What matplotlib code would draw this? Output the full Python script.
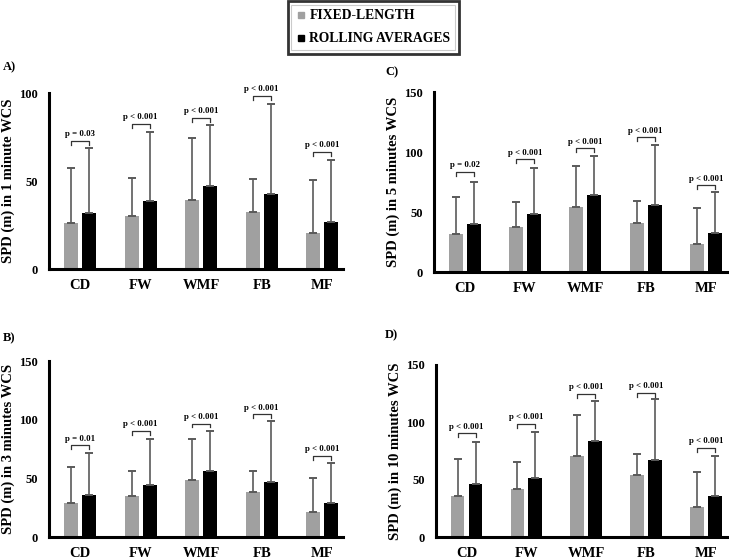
import matplotlib
matplotlib.use("Agg")
import matplotlib.pyplot as plt
from matplotlib.lines import Line2D
from matplotlib.patches import Rectangle
import numpy as np

plt.rcParams['font.family'] = ['Liberation Serif', 'DejaVu Serif']
plt.rcParams['font.weight'] = 'bold'

categories = ['CD', 'FW', 'WMF', 'FB', 'MF']

# panel A: 1 minute WCS
a_fixed = [26, 30.3, 39.2, 32.6, 20.3]
a_fixed_sd = [31.4, 21.4, 35.4, 18.5, 30.1]
a_roll = [32, 38.8, 47.3, 42.6, 26.5]
a_roll_sd = [36.6, 39.2, 34.3, 51.4, 35.2]
a_bracket = [72.9, 82.4, 86, 98.5, 66.5]
a_p = ['p = 0.03', 'p < 0.001', 'p < 0.001', 'p < 0.001', 'p < 0.001']

# panel B: 3 minutes WCS
b_fixed = [28.9, 34.8, 48.4, 38.2, 21.5]
b_fixed_sd = [30.8, 21.8, 35.4, 18.4, 29.2]
b_roll = [36.2, 44.7, 56.3, 47.5, 29.2]
b_roll_sd = [35.7, 39.1, 34.6, 51.3, 34.2]
b_bracket = [78.4, 90.6, 96.8, 104.7, 69.3]
b_p = ['p = 0.01', 'p < 0.001', 'p < 0.001', 'p < 0.001', 'p < 0.001']

# panel C: 5 minutes WCS
c_fixed = [31.7, 37.8, 54.4, 41.1, 23.3]
c_fixed_sd = [30.8, 21.1, 34.5, 18.3, 30]
c_roll = [40, 48.3, 64.2, 55.8, 32.8]
c_roll_sd = [35.3, 38.9, 33, 50, 33.9]
c_bracket = [83.6, 94.2, 103.3, 112.5, 72.5]
c_p = ['p = 0.02', 'p < 0.001', 'p < 0.001', 'p < 0.001', 'p < 0.001']

# panel D: 10 minutes WCS
d_fixed = [36, 41.8, 70.7, 54.2, 26]
d_fixed_sd = [32, 23.5, 35.8, 18.5, 30.8]
d_roll = [46.7, 51.9, 84.2, 67.5, 35.5]
d_roll_sd = [36.4, 39.5, 34.7, 52.8, 35.5]
d_bracket = [90.3, 98.7, 124.7, 125.5, 77.9]
d_p = ['p < 0.001', 'p < 0.001', 'p < 0.001', 'p < 0.001', 'p < 0.001']

GRAY = '#a0a0a0'
ECOL = '#5a5a5a'

fig = plt.figure(figsize=(7.29, 5.6), dpi=100)

def panel(rect, fixed, fsd, roll, rsd, brk, ptxt, ymax, ylabel, tag, tagpos):
    ax = fig.add_axes(rect)
    x = np.arange(len(categories))
    w = 0.23
    off = 0.15
    ax.bar(x - off, fixed, w, color=GRAY)
    ax.bar(x + off, roll, w, color='black')
    ax.errorbar(x - off, fixed, yerr=[np.zeros(5), fsd], fmt='none',
                ecolor=ECOL, elinewidth=1.2, capsize=3, capthick=1.4)
    ax.errorbar(x + off, roll, yerr=[np.zeros(5), rsd], fmt='none',
                ecolor=ECOL, elinewidth=1.2, capsize=3, capthick=1.4)
    tick = ymax * 0.022
    for i in range(len(categories)):
        ax.plot([x[i] - off, x[i] - off, x[i] + off, x[i] + off],
                [brk[i] - tick, brk[i], brk[i], brk[i] - tick],
                color='#333333', lw=0.9)
        ax.text(x[i], brk[i] + ymax * 0.015, ptxt[i], ha='center',
                va='bottom', fontsize=6.3, fontweight='bold')
    ax.set_xlim(-0.51, 4.35)
    ax.set_ylim(0, ymax)
    ax.set_yticks(np.arange(0, ymax + 1, 50))
    ax.set_xticks(x)
    ax.set_xticklabels(categories, fontsize=10.5, fontweight='bold')
    ax.tick_params(axis='y', labelsize=9, length=0, pad=8)
    ax.tick_params(axis='x', length=0, pad=7)
    for s in ['top', 'right']:
        ax.spines[s].set_visible(False)
    for s in ['left', 'bottom']:
        ax.spines[s].set_linewidth(2.2)
    ax.set_ylabel(ylabel, fontsize=10.5, fontweight='bold', labelpad=3)
    fig.text(tagpos[0], tagpos[1], tag, fontsize=9, fontweight='bold',
             ha='left', va='center')
    return ax

panel([0.0676, 0.5196, 0.4033, 0.3143], a_fixed, a_fixed_sd, a_roll, a_roll_sd,
      a_bracket, a_p, 100, 'SPD (m) in 1 minute WCS', 'A)', (0.004, 1 - 67 / 560))
panel([0.0676, 0.0405, 0.4033, 0.3147], b_fixed, b_fixed_sd, b_roll, b_roll_sd,
      b_bracket, b_p, 150, 'SPD (m) in 3 minutes WCS', 'B)', (0.004, 1 - 338 / 560))
panel([0.5953, 0.5138, 0.4020, 0.3214], c_fixed, c_fixed_sd, c_roll, c_roll_sd,
      c_bracket, c_p, 150, 'SPD (m) in 5 minutes WCS', 'C)', (0.528, 1 - 72 / 560))
panel([0.5981, 0.0405, 0.3990, 0.3080], d_fixed, d_fixed_sd, d_roll, d_roll_sd,
      d_bracket, d_p, 150, 'SPD (m) in 10 minutes WCS', 'D)', (0.528, 1 - 335 / 560))

handles = [Line2D([], [], marker='s', color=GRAY, ls='none', markersize=5),
           Line2D([], [], marker='s', color='black', ls='none', markersize=5)]
leg = fig.legend(handles, ['FIXED-LENGTH', 'ROLLING AVERAGES'],
                 loc='upper center', bbox_to_anchor=(0.512, 0.998),
                 prop={'size': 9.8, 'weight': 'bold'}, fancybox=False,
                 edgecolor='black', handletextpad=0.2, handlelength=0.8,
                 borderpad=0.6, labelspacing=0.75, borderaxespad=0)
leg.get_frame().set_linewidth(2)

# second thin line inside the legend frame
fig.canvas.draw()
bb = leg.get_window_extent().transformed(fig.transFigure.inverted())
ix, iy = 3.5 / 729, 3.5 / 560
fig.add_artist(Rectangle((bb.x0 + ix, bb.y0 + iy), bb.width - 2 * ix,
                         bb.height - 2 * iy, transform=fig.transFigure,
                         fill=False, edgecolor='black', lw=0.8))

fig.savefig('out.png', dpi=100)
